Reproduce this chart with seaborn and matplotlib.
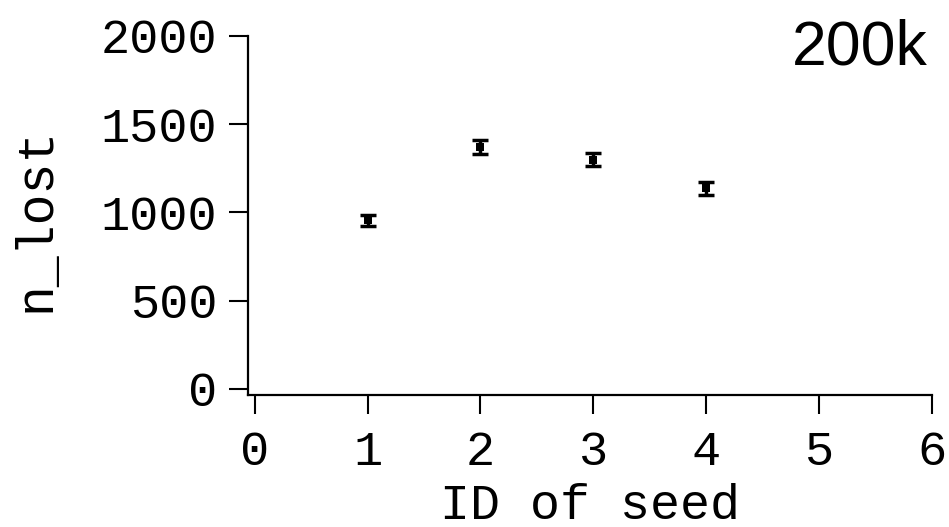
"""Lost-count per seed, 200k sample."""

import numpy as np
import pandas as pd
import matplotlib
matplotlib.use("Agg")
import matplotlib.pyplot as plt
import seaborn as sns

# values
seed_ids = [1, 2, 3, 4]
n_lost = [955, 1371, 1300, 1136]
n_lost_err = [32, 38, 37, 35]
x_ticks = [0, 1, 2, 3, 4, 5, 6]
y_ticks = [0, 500, 1000, 1500, 2000]
tag = "200k"

sns.set_style("ticks")
plt.rcParams["font.family"] = ["Liberation Mono", "DejaVu Sans Mono"]
plt.rcParams["text.color"] = "black"

df = pd.DataFrame({"seed": seed_ids, "n_lost": n_lost, "err": n_lost_err})

fig = plt.figure(figsize=(9.49, 5.27), dpi=100)
ax = fig.add_axes([0.2613, 0.2505, 0.7207, 0.6812])

ax.errorbar(df["seed"], df["n_lost"], yerr=df["err"], fmt="none",
            ecolor="black", elinewidth=2.5, capsize=6, capthick=2.5, zorder=2)
sns.scatterplot(data=df, x="seed", y="n_lost", ax=ax, color="black",
                marker="s", s=32, edgecolor="black", linewidth=0, zorder=3)

ax.set_xlim(-0.06, 6)
ax.set_ylim(-34, 2000)
ax.set_xticks(x_ticks)
ax.set_yticks(y_ticks)
ax.tick_params(axis="both", direction="out", length=14, width=1.5,
               labelsize=35, color="black", labelcolor="black")
ax.tick_params(axis="x", pad=11)
ax.tick_params(axis="y", pad=8)

for side in ["top", "right"]:
    ax.spines[side].set_visible(False)
for side in ["left", "bottom"]:
    ax.spines[side].set_linewidth(1.6)
    ax.spines[side].set_color("black")

# x label sits on a baseline just above the bottom edge, as in the reference
ax.set_xlabel("ID of seed", fontsize=36, va="baseline", color="black")
ax.set_ylabel("n_lost", fontsize=37, va="center", color="black")
ax.xaxis.set_label_coords(0.5, -0.345)
ax.yaxis.set_label_coords(-0.31, 0.49)

fig.text(0.978, 0.965, tag, ha="right", va="top", fontsize=45,
         color="black", family=["Liberation Sans", "DejaVu Sans"])

fig.savefig("out.png", dpi=100)
